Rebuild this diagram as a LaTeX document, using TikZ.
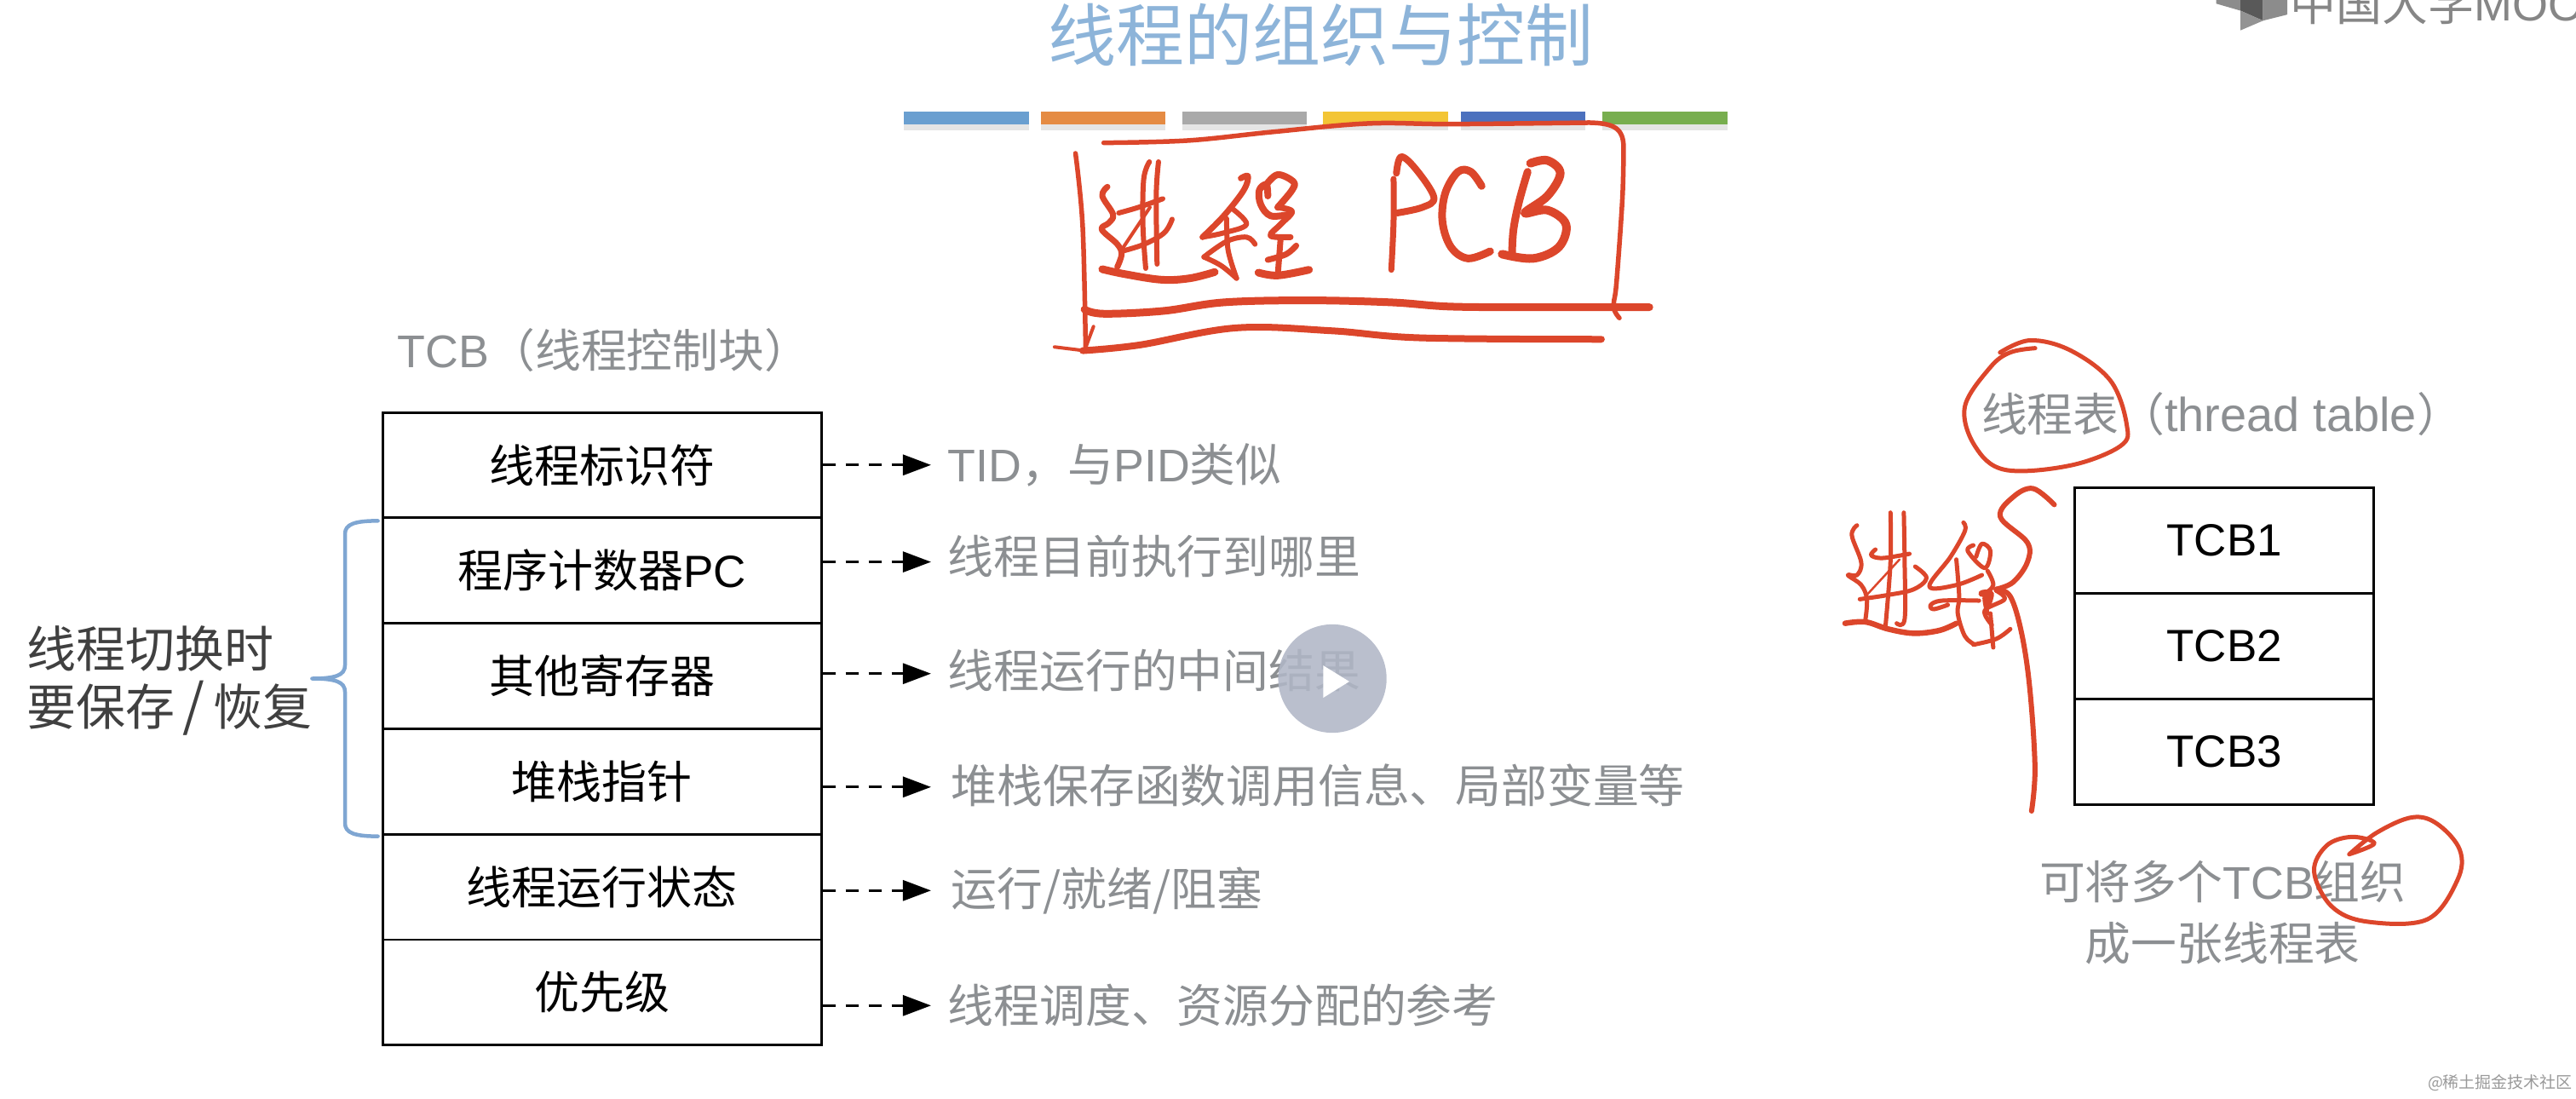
\documentclass[tikz,border=0pt]{standalone}
\usepackage{fontspec}
\setmainfont{Noto Sans CJK SC}
\newfontfamily\latf{Liberation Sans}
\newcommand\la[1]{{\latf #1}}
\usetikzlibrary{arrows.meta}
\definecolor{txtgray}{HTML}{8C8F92}
\definecolor{redink}{HTML}{DC462B}
\definecolor{titleblue}{HTML}{8DB4D9}
\definecolor{braceblue}{HTML}{7FA6D2}
\definecolor{playc}{HTML}{B0B6C6}
\tikzset{
 bigfont/.style={font=\fontsize{53pt}{68pt}\selectfont},
 grayfont/.style={font=\fontsize{53.8pt}{72.5pt}\selectfont},
 rowbox/.style={draw=black,line width=2.8pt,minimum width=515pt,minimum height=123.75pt,inner sep=0pt,text=black,bigfont},
 tcbbox/.style={draw=black,line width=2.8pt,minimum width=351pt,minimum height=124pt,inner sep=0pt,text=black,bigfont},
 graytext/.style={text=txtgray,inner sep=0pt,anchor=west,grayfont},
 darr/.style={draw=black,line width=3pt,dash pattern=on 15pt off 12pt,-{Triangle[length=33pt,width=24pt]}},
 ink/.style={draw=redink,line width=7pt,line cap=round,line join=round},
 thinink/.style={draw=redink,line width=5pt,line cap=round,line join=round},
 sink/.style={smooth,tension=.6},
}
\begin{document}
\begin{tikzpicture}[x=1.92857pt,y=-1.92857pt]
\useasboundingbox (0,0) rectangle (1568,668.4);
% logo (cropped by the top edge)
\begin{scope}
\clip (0,0) rectangle (1568,668.4);
\begin{scope}[shift={(1296.3,0)},xscale=.1728,yscale=.185]
\fill[gray!90] (305,0)--(305,12)--(390,35)--(390,0)--cycle;
\fill[gray!70!black] (390,0)--(470,0)--(470,68)--(390,35)--cycle;
\fill[gray!90] (470,0)--(555,0)--(555,48)--(470,68)--cycle;
\fill[gray!85] (390,35)--(470,68)--(390,100)--cycle;
\end{scope}
\node[anchor=base west,inner sep=0pt,text=gray!95,font=\fontsize{54pt}{60pt}\selectfont] (logo) at (1394,12.5) {中国大学\la{MOOC}};
\end{scope}
% title
\node[text=titleblue,inner sep=0pt,font=\fontsize{80pt}{90pt}\selectfont] (title) at (804,21) {线程的组织与控制};
% colour bars
\begin{scope}[shift={(518.5,0)},xscale=.365,yscale=.1728]
\foreach \a/\b/\c in {87/295/6A9FD0,315/523/E58B43,551/759/A9A9A9,785/994/F3C535,1016/1223/4C71BE,1252/1460/78AE4F}{
 \fill[black!10] (\a,438) rectangle (\b,458);
 \definecolor{barc}{HTML}{\c}
 \fill[barc] (\a,392) rectangle (\b,438);
}
\end{scope}
% TCB table
\node[graytext] (tcbtitle) at (242,213) {\la{TCB}（线程控制块）};
\node[rowbox] (r1) at (366.5,283.1) {线程标识符};
\node[rowbox] (r2) at (366.5,347.3) {程序计数器\la{PC}};
\node[rowbox] (r3) at (366.5,411.5) {其他寄存器};
\node[rowbox] (r4) at (366.5,475.6) {堆栈指针};
\node[rowbox] (r5) at (366.5,539.8) {线程运行状态};
\node[rowbox] (r6) at (366.5,604) {优先级};
\node[graytext] (l1) at (577,283) {\la{TID}，与\la{PID}类似};
\node[graytext] (l2) at (577,338.5) {线程目前执行到哪里};
\node[graytext] (l3) at (577,408) {线程运行的中间结果};
\node[graytext] (l4) at (579,478) {堆栈保存函数调用信息、局部变量等};
\node[graytext] (l5) at (579,542) {运行/就绪/阻塞};
\node[graytext] (l6) at (577,612) {线程调度、资源分配的参考};
\foreach \i/\y in {1/283,2/342,3/410,4/479,5/542,6/612}{
 \coordinate (a\i) at (566.7,\y);
 \draw[darr] (r\i.east |- a\i) -- (a\i);
}
% brace
\draw[draw=braceblue,line width=4.5pt,line join=round,line cap=round]
 (230,317) .. controls (216,317) and (210,319) .. (210,325) -- (210,405)
 .. controls (210,411) and (204,413) .. (190,413)
 .. controls (204,413) and (210,415) .. (210,421) -- (210,501)
 .. controls (210,507) and (216,509) .. (230,509);
\node[text=black!75,inner sep=0pt,anchor=north west,align=left,font=\fontsize{58pt}{68pt}\selectfont] (sw) at (16,381) {线程切换时\\要保存\,{\fontsize{66pt}{68pt}\selectfont /}\,恢复};
% thread table
\node[graytext] (tt) at (1206,252) {线程表（{\latf\fontsize{56pt}{68pt}\selectfont thread table}）};
\node[tcbbox] (t1) at (1354,329) {\la{TCB1}};
\node[tcbbox] (t2) at (1354,393.3) {\la{TCB2}};
\node[tcbbox] (t3) at (1354,457.6) {\la{TCB3}};
\node[text=txtgray,inner sep=0pt,align=center,grayfont] (cap) at (1353,555.5) {可将多个\la{TCB}组织\\成一张线程表};
% handwritten PCB frame
\begin{scope}[shift={(518.5,0)},xscale=.365,yscale=.1728]
\draw[ink,line width=5.5pt] plot[sink] coordinates {(420,503)(560,495)(700,465)(860,435)(1000,437)(1230,432)} .. controls (1270,434) and (1287,450) .. (1287,520) plot[sink] coordinates {(1287,520)(1285,700)(1275,1000)(1270,1080)(1280,1120)};
\draw[ink,line width=5.5pt] plot[sink] coordinates {(373,540)(385,800)(390,1235)};
\draw[ink,line width=4pt] (403,1150)--(388,1235)--(338,1222);
\draw[ink,line width=9pt] plot[sink] coordinates {(388,1090)(420,1105)(520,1095)(620,1065)(760,1058)(900,1065)(1000,1080)(1150,1082)(1330,1082)};
\draw[ink,line width=8pt] plot[sink] coordinates {(385,1235)(480,1215)(640,1155)(800,1165)(950,1190)(1250,1195)};
\end{scope}
% handwritten jin cheng
\begin{scope}[shift={(658.5,93.33)},scale=.17284]
\draw[ink] plot[sink] coordinates {(90,118)(72,150)(110,215)(95,245)(70,268)(125,320)(140,355)(125,400)};
\draw[ink,line width=9pt] plot[sink] coordinates {(72,408)(150,425)(280,445)(380,440)(468,418)};
\draw[ink,line width=6pt] plot[sink] coordinates {(238,30)(218,90)(215,250)(225,405)};
\draw[ink,line width=6pt] plot[sink] coordinates {(270,30)(262,150)(265,390)};
\draw[ink,line width=6pt] plot[sink] coordinates {(130,210)(200,190)(285,160)};
\draw[ink,line width=4pt] plot[sink] coordinates {(140,340)(240,190)};
\draw[ink,line width=6pt] plot[sink] coordinates {(140,345)(220,320)(290,280)(318,232)};
\draw[ink] plot[sink] coordinates {(560,88)(585,80)(570,130)(500,220)(425,295)};
\draw[ink,line width=6pt] plot[sink] coordinates {(425,295)(500,280)(580,250)(530,195)};
\draw[ink,line width=6pt] plot[sink] coordinates {(510,230)(515,340)(545,440)};
\draw[ink,line width=6pt] plot[sink] coordinates {(430,365)(510,310)(580,295)(610,320)};
\draw[ink,line width=6pt] plot[sink] coordinates {(430,365)(490,395)(545,440)};
\draw[ink,line width=8pt] plot[sink] coordinates {(655,150)(650,110)(625,130)(630,180)(665,220)(730,215)};
\draw[ink,line width=8pt] plot[sink] coordinates {(650,110)(690,75)(745,100)(740,130)(690,190)};
\draw[ink] plot[sink] coordinates {(690,190)(740,205)(700,250)(665,290)(735,295)};
\draw[ink] plot[sink] coordinates {(755,325)(720,355)(655,375)};
\draw[ink] plot[sink] coordinates {(700,300)(690,430)};
\draw[ink,line width=9pt] plot[sink] coordinates {(622,420)(690,430)(800,410)};
\end{scope}
% handwritten PCB letters
\begin{scope}[shift={(829.6,82.96)},scale=.17284]
\draw[ink,line width=7pt] plot[sink] coordinates {(108,150)(108,300)(100,470)};
\draw[ink,line width=8pt] plot[sink] coordinates {(118,130)(135,72)(190,120)(250,215)(210,250)(120,270)};
\draw[ink,line width=9pt] plot[sink] coordinates {(418,175)(380,125)(335,125)(290,200)(280,300)(310,390)(370,430)(448,405)};
\draw[ink,line width=9pt] plot[sink] coordinates {(580,125)(550,230)(530,330)(525,420)};
\draw[ink,line width=10pt] plot[sink] coordinates {(590,95)(650,85)(695,130)(650,210)(570,270)(650,260)(715,310)(690,390)(600,430)(490,415)};
\end{scope}
% circles on the right
\begin{scope}[shift={(1088.9,181.5)},xscale=.3059,yscale=.2644]
\draw[thinink] plot[sink] coordinates {(490,115)(440,125)(400,160)(350,250)(370,340)(430,395)(560,385)(660,340)(672,290)(640,190)(560,120)(480,97)(420,125)};
\draw[thinink] plot[sink] coordinates {(1115,1280)(1165,1255)(1120,1240)(1070,1260)(1045,1320)(1080,1400)(1150,1435)(1270,1430)(1330,1340)(1335,1270)(1290,1210)(1240,1195)(1170,1230)(1115,1280)};
\end{scope}
% handwritten small jin cheng and brace
\begin{scope}[shift={(1104.4,290.4)},scale=.1728]
\draw[thinink] plot[sink] coordinates {(150,170)(132,205)(165,300)(150,345)(118,345)(165,380)(185,430)(180,500)};
\draw[thinink,line width=6.5pt] plot[sink] coordinates {(108,515)(180,510)(260,535)(350,550)(440,540)(500,515)};
\draw[thinink] plot[sink] coordinates {(268,125)(268,300)(250,530)};
\draw[thinink] plot[sink] coordinates {(315,125)(318,300)(318,500)(290,515)};
\draw[thinink] plot[sink] coordinates {(215,255)(200,275)(240,285)(335,270)};
\draw[thinink,line width=2.5pt] plot[sink] coordinates {(180,420)(300,290)};
\draw[thinink] plot[sink] coordinates {(160,430)(260,415)(350,395)(395,355)(355,315)};
\draw[thinink] plot[sink] coordinates {(525,160)(530,190)(480,280)(405,385)(500,380)(590,345)};
\draw[thinink] plot[sink] coordinates {(500,290)(510,420)(505,480)(530,560)(565,590)};
\draw[thinink] plot[sink] coordinates {(580,435)(450,435)(410,450)(420,465)(470,450)};
\draw[thinink] plot[sink] coordinates {(560,240)(540,260)(600,320)(620,260)(590,235)(570,280)};
\draw[thinink] plot[sink] coordinates {(610,330)(630,380)(600,420)(610,480)};
\draw[thinink] plot[sink] coordinates {(640,400)(670,430)(600,470)(625,520)};
\draw[thinink] plot[sink] coordinates {(620,480)(630,600)};
\draw[thinink] plot[sink] coordinates {(560,590)(640,570)(690,535)};
\draw[thinink,line width=8pt] plot[sink] coordinates {(590,410)(620,410)(610,450)};
\draw[thinink,line width=6pt] plot[sink] coordinates {(845,97)(770,40)(700,70)(655,140)(750,230)(750,300)(700,370)(640,395)};
\draw[thinink,line width=6pt] plot[sink] coordinates {(640,395)(690,420)(730,550)(759,747)(777,1023)(765,1176)};
\end{scope}
% play button
\fill[playc,opacity=.88] (811,413) circle[radius=33];
\fill[white] (805.4,405)--(805.4,424.7)--(821.3,414.8)--cycle;
% watermark
\node[text=gray!80,inner sep=0pt,anchor=east,font=\fontsize{19pt}{22pt}\selectfont] (wm) at (1566,659) {@稀土掘金技术社区};
\end{tikzpicture}
\end{document}
